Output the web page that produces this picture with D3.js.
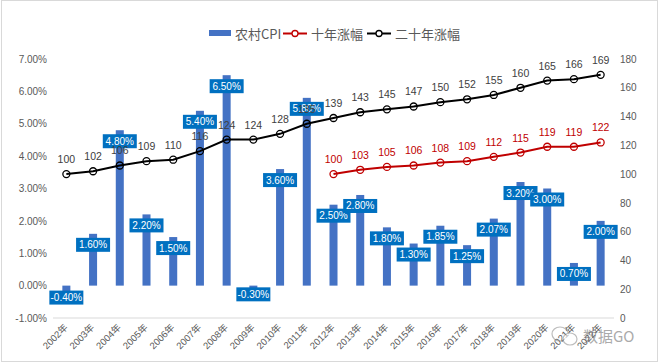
<!DOCTYPE html>
<html>
<head>
<meta charset="utf-8">
<script src="https://cdn.jsdelivr.net/npm/d3@7"></script>
<style>
  body { margin: 0; background: #fff; }
  svg { font-family: "Liberation Sans", "Noto Sans CJK SC", sans-serif; }
</style>
</head>
<body>
<div id="chart"></div>
<script>
// categories and values
const years = ["2002年","2003年","2004年","2005年","2006年","2007年","2008年","2009年","2010年","2011年","2012年",
  "2013年","2014年","2015年","2016年","2017年","2018年","2019年","2020年","2021年","2022年"];
const cpi = [-0.4, 1.6, 4.8, 2.2, 1.5, 5.4, 6.5, -0.3, 3.6, 5.8, 2.5, 2.8, 1.8, 1.3, 1.85, 1.25, 2.07, 3.2, 3.0, 0.7, 2.0];
const twenty = [100, 102, 106, 109, 110, 116, 124, 124, 128, 135, 139, 143, 145, 147, 150, 152, 155, 160, 165, 166, 169];
// ten-year series starts in 2012
const tenYears = years.slice(10);
const ten = [100, 103, 105, 106, 108, 109, 112, 115, 119, 119, 122];
const leftTicks = [-1, 0, 1, 2, 3, 4, 5, 6, 7];
const rightTicks = [0, 20, 40, 60, 80, 100, 120, 140, 160, 180];

const width = 660, height = 364;
const pTop = 59, pBottom = 318, pLeft = 53, pRight = 614;

const svg = d3.select("#chart").append("svg")
    .attr("width", width)
    .attr("height", height);

// chart frame
svg.append("rect")
    .attr("x", 1.5).attr("y", 0.5)
    .attr("width", width - 4).attr("height", height - 3)
    .attr("fill", "#fff")
    .attr("stroke", "#d9d9d9");

const x = d3.scaleBand()
    .domain(years)
    .range([pLeft, pRight])
    .paddingInner(0.7)
    .paddingOuter(0.35);
const cx = d => x(d) + x.bandwidth() / 2;

const y = d3.scaleLinear().domain([-1, 7]).range([pBottom, pTop]);
const y2 = d3.scaleLinear().domain([0, 180]).range([pBottom, pTop]);

// left axis
svg.append("g")
    .attr("transform", "translate(" + (pLeft - 3) + ",0)")
    .call(d3.axisLeft(y).tickValues(leftTicks).tickSize(0).tickFormat(d => d.toFixed(2) + "%"))
    .call(g => g.select(".domain").remove())
    .selectAll("text")
      .attr("fill", "#595959")
      .attr("font-size", 10);

// right axis
svg.append("g")
    .attr("transform", "translate(" + (pRight + 3) + ",0)")
    .call(d3.axisRight(y2).tickValues(rightTicks).tickSize(0))
    .call(g => g.select(".domain").remove())
    .selectAll("text")
      .attr("fill", "#595959")
      .attr("font-size", 10);

// baseline
svg.append("line")
    .attr("x1", pLeft).attr("x2", pRight)
    .attr("y1", y(-1)).attr("y2", y(-1))
    .attr("stroke", "#d9d9d9")
    .attr("stroke-width", 1);

// x labels
svg.append("g")
  .selectAll("text")
  .data(years)
  .enter()
  .append("text")
    .attr("transform", d => "translate(" + (cx(d) + 2) + "," + (pBottom + 10) + ") rotate(-45)")
    .attr("text-anchor", "end")
    .attr("font-size", 9.5)
    .attr("fill", "#595959")
    .text(d => d);

// bars
svg.append("g")
  .selectAll("rect")
  .data(cpi)
  .enter()
  .append("rect")
    .attr("x", (d, i) => x(years[i]))
    .attr("width", x.bandwidth())
    .attr("y", d => Math.min(y(d), y(0)))
    .attr("height", d => Math.abs(y(d) - y(0)))
    .attr("fill", "#4472c4");

// bar labels
const bl = svg.append("g")
  .selectAll("g")
  .data(cpi)
  .enter()
  .append("g")
    .attr("transform", (d, i) => "translate(" + cx(years[i]) + "," + (d < 0 ? y(d) - 1 : y(d) + 11) + ")");
bl.append("rect")
    .attr("x", -17).attr("y", -7)
    .attr("width", 34).attr("height", 14)
    .attr("fill", "#0070c0");
bl.append("text")
    .attr("text-anchor", "middle")
    .attr("dy", "0.35em")
    .attr("font-size", 10)
    .attr("fill", "#fff")
    .text(d => d.toFixed(2) + "%");

// lines
function drawLine(cats, vals, color) {
  const line = d3.line()
      .x((d, i) => cx(cats[i]))
      .y(d => y2(d));
  svg.append("path")
      .datum(vals)
      .attr("d", line)
      .attr("fill", "none")
      .attr("stroke", color)
      .attr("stroke-width", 2);
  svg.append("g")
    .selectAll("circle")
    .data(vals)
    .enter()
    .append("circle")
      .attr("cx", (d, i) => cx(cats[i]))
      .attr("cy", d => y2(d))
      .attr("r", 3.5)
      .attr("fill", "#fff")
      .attr("fill-opacity", 0)
      .attr("stroke", color)
      .attr("stroke-width", 1.3);
  svg.append("g")
    .selectAll("text")
    .data(vals)
    .enter()
    .append("text")
      .attr("x", (d, i) => cx(cats[i]))
      .attr("y", d => y2(d) - 11)
      .attr("text-anchor", "middle")
      .attr("font-size", 10.5)
      .attr("fill", color == "#000000" ? "#404040" : "#c00000")
      .text(d => d);
}
drawLine(tenYears, ten, "#c00000");
drawLine(years, twenty, "#000000");

// legend
const lg = svg.append("g").attr("font-family", "Noto Sans CJK SC, sans-serif");
lg.append("rect")
    .attr("x", 209).attr("y", 30)
    .attr("width", 22).attr("height", 6)
    .attr("fill", "#4472c4");
lg.append("text").attr("x", 235).attr("y", 38.5).attr("font-size", 13).attr("fill", "#595959").text("农村CPI");
[[283, "#c00000", "十年涨幅", 311], [367, "#000000", "二十年涨幅", 395]].forEach(function(l) {
  lg.append("line")
      .attr("x1", l[0]).attr("x2", l[0] + 24)
      .attr("y1", 33.5).attr("y2", 33.5)
      .attr("stroke", l[1]).attr("stroke-width", 2);
  lg.append("circle")
      .attr("cx", l[0] + 12).attr("cy", 33.5).attr("r", 3)
      .attr("fill", "#fff").attr("stroke", l[1]).attr("stroke-width", 1.3);
  lg.append("text").attr("x", l[3]).attr("y", 38.5).attr("font-size", 13).attr("fill", "#595959").text(l[2]);
});

// watermark
const wm = svg.append("g").attr("opacity", 0.55);
wm.append("ellipse").attr("cx", 560).attr("cy", 334).attr("rx", 8).attr("ry", 7)
    .attr("fill", "none").attr("stroke", "#888").attr("stroke-width", 1.2);
wm.append("ellipse").attr("cx", 570).attr("cy", 339).attr("rx", 7).attr("ry", 6)
    .attr("fill", "#fff").attr("stroke", "#888").attr("stroke-width", 1.2);
wm.append("text").attr("x", 583).attr("y", 342)
    .attr("font-family", "Noto Sans CJK SC, sans-serif")
    .attr("font-size", 15).attr("fill", "#666").text("数据GO");
</script>
</body>
</html>
